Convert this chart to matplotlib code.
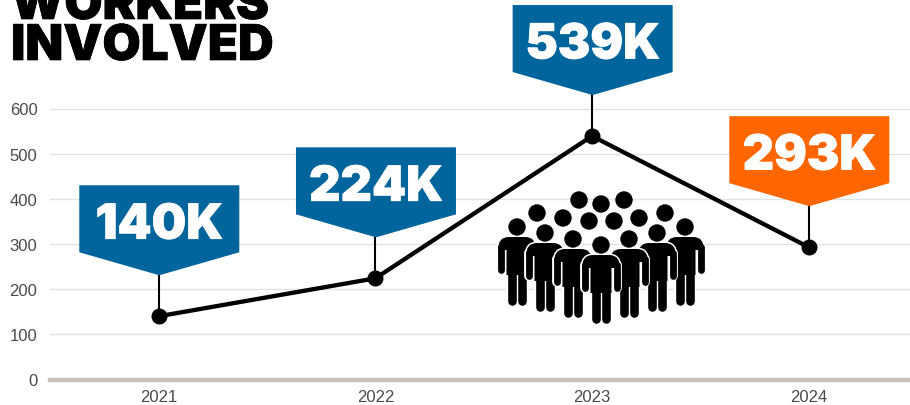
#!/usr/bin/env python3
import matplotlib
matplotlib.use("Agg")
import matplotlib.pyplot as plt
from matplotlib.patches import Circle, PathPatch, Polygon
from matplotlib.path import Path
from matplotlib.transforms import IdentityTransform
import matplotlib.patheffects as pe

years = ["2021", "2022", "2023", "2024"]
workers = [140, 224, 539, 293]
flag_labels = ["140K", "224K", "539K", "293K"]
y_ticks = [0, 100, 200, 300, 400, 500, 600]

BLUE = "#00659c"
ORANGE = "#ff6600"
flag_colors = [BLUE, BLUE, BLUE, ORANGE]
HEAVY = ["Inter", "Roboto", "Liberation Sans"]

W, H = 910, 406

plt.rcParams["font.family"] = ["Liberation Sans", "DejaVu Sans"]

fig = plt.figure(figsize=(W / 100, H / 100), dpi=100)
ax = fig.add_axes([50 / W, (H - 380.5) / H, 860 / W, 380.5 / H])

xs = list(range(len(years)))
step = 216.67
ax.set_xlim(-(158.7 - 50) / step, 3 + (910 - 808.7) / step)
ax.set_ylim(0, 600 * 380.5 / 271)

for t in y_ticks[1:]:
    ax.axhline(t, color="#e2e2e2", lw=1.0, zorder=1)
ax.axhline(0, color="#c9c2be", lw=3.2, zorder=2, clip_on=False)

ax.plot(xs, workers, color="black", lw=3.1, zorder=4, clip_on=False,
        marker="o", ms=10.5, solid_capstyle="round")

ax.set_xticks(xs)
ax.set_xticklabels(years)
ax.set_yticks(y_ticks)
ax.tick_params(axis="both", length=0, labelsize=12, labelcolor="#4a4a4a")
ax.tick_params(axis="y", pad=9)
ax.tick_params(axis="x", pad=6.5)
for s in ax.spines.values():
    s.set_visible(False)

px = IdentityTransform()
fig.canvas.draw()


def to_display(x_px, y_px):
    # picture pixels, y going down -> display coords
    return x_px, H - y_px


# flags hang off the data point, offsets in picture pixels
for x, v, lab, c in zip(xs, workers, flag_labels, flag_colors):
    cx, cy = ax.transData.transform((x, v))
    ax.plot([cx, cx], [cy, cy + 41], color="black", lw=1.5, zorder=3,
            transform=px, clip_on=False)
    fx = cx + 0.6
    flag = Polygon([(fx - 80, cy + 131), (fx + 80, cy + 131), (fx + 80, cy + 64),
                    (fx, cy + 41), (fx - 80, cy + 64)],
                   closed=True, fc=c, ec="none", zorder=5, transform=px, clip_on=False)
    ax.add_patch(flag)
    ax.text(fx, cy + 90.5, lab, transform=px, color="white", ha="center", va="center",
            fontsize=35, family=HEAVY, fontweight="black", zorder=6,
            path_effects=[pe.withStroke(linewidth=0.5, foreground="white")])

# title, top line is cut by the picture edge
for line, base in (("WORKERS", 20), ("INVOLVED", 61)):
    fig.text(11 / W, (H - base) / H, line, color="black", ha="left", va="baseline",
             fontsize=35.5, family=HEAVY, fontweight="black",
             path_effects=[pe.withStroke(linewidth=0.5, foreground="black")])

# crowd icon
back_heads = [(579, 201), (601, 205), (624, 201), (537, 214), (563, 219), (589, 222),
              (614, 222), (639, 219), (665, 214)]
front_people = [(517, 228), (685, 228), (545, 234), (657, 234), (573, 240), (629, 240), (601, 246)]


def add_person(hx, hy):
    for color, grow in (("white", 3.0), ("black", 0.0)):
        def P(dx, dy):
            return to_display(hx + dx, hy + dy)
        verts = [P(-19, 23), P(-19, 10), P(-8, 10), P(8, 10), P(19, 10), P(19, 23),
                 P(10.5, 23), P(10.5, 48), P(-10.5, 48), P(-10.5, 23), P(-19, 23)]
        codes = [Path.MOVETO, Path.CURVE3, Path.CURVE3, Path.LINETO, Path.CURVE3, Path.CURVE3,
                 Path.LINETO, Path.LINETO, Path.LINETO, Path.LINETO, Path.CLOSEPOLY]
        ax.add_patch(PathPatch(Path(verts, codes), fc=color, ec=color, lw=grow * 0.72,
                               transform=px, zorder=3.5, clip_on=False))
        for dx, y0, y1, w in ((-15.6, 20, 43, 6.8), (15.6, 20, 43, 6.8),
                              (-5.4, 44, 73.5, 8.6), (5.4, 44, 73.5, 8.6)):
            a = P(dx, y0)
            b = P(dx, y1)
            ax.plot([a[0], b[0]], [a[1], b[1]], color=color, lw=(w + grow) * 0.72,
                    solid_capstyle="round", transform=px, zorder=3.5, clip_on=False)
    ax.add_patch(Circle(to_display(hx, hy), 8.7, fc="black", ec="none", transform=px,
                        zorder=3.5, clip_on=False))


for hx, hy in back_heads:
    ax.add_patch(Circle(to_display(hx, hy), 8.7, fc="black", ec="none", transform=px,
                        zorder=3.5, clip_on=False))
for hx, hy in front_people:
    add_person(hx, hy)

fig.savefig("out.png", dpi=100)
